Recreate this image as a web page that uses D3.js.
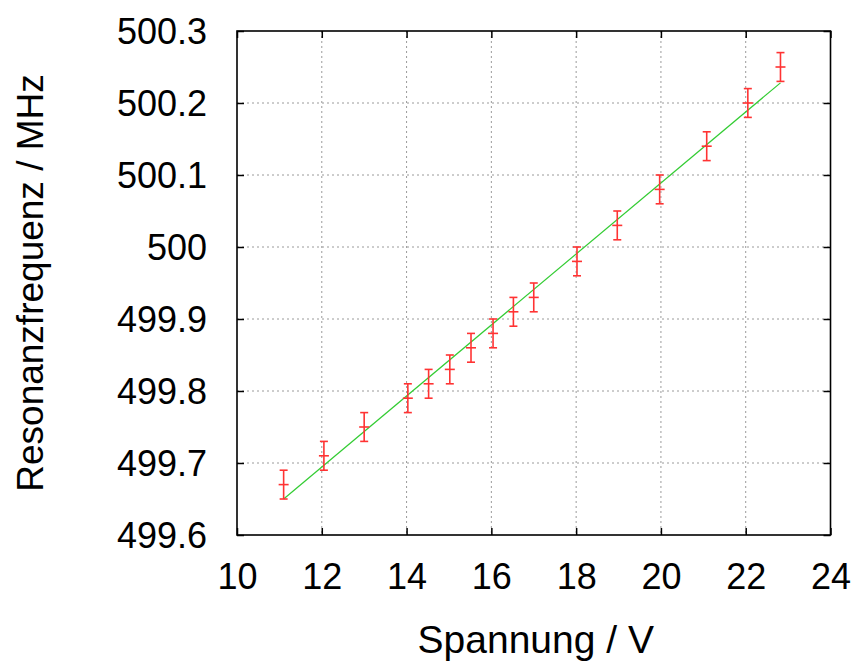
<!DOCTYPE html>
<html>
<head>
<meta charset="utf-8">
<script src="https://cdn.jsdelivr.net/npm/d3@7"></script>
<style>
  html, body { margin: 0; padding: 0; background: #fff; }
  svg { display: block; }
  text { font-family: "Liberation Sans", Arial, Helvetica, sans-serif; fill: #000; }
</style>
</head>
<body>
<svg id="chart" width="859" height="666"></svg>
<script>
// ---- data ----
const voltage   = [11.1, 12.05, 13.0, 14.03, 14.52, 15.02, 15.52, 16.04, 16.52, 17.0, 18.02, 18.97, 19.97, 21.08, 22.05, 22.82];
const frequency = [499.67, 499.71, 499.75, 499.79, 499.81, 499.83, 499.86, 499.88, 499.91, 499.93, 499.98, 500.03, 500.08, 500.14, 500.20, 500.25];
const freqError = [0.02, 0.02, 0.02, 0.02, 0.02, 0.02, 0.02, 0.02, 0.02, 0.02, 0.02, 0.02, 0.02, 0.02, 0.02, 0.02];
const fitX = [11.1, 22.82];
const fitY = [499.65, 500.228];
const xTicks = [10, 12, 14, 16, 18, 20, 22, 24];
const yTicks = [499.6, 499.7, 499.8, 499.9, 500, 500.1, 500.2, 500.3];
const xTitle = "Spannung / V";
const yTitle = "Resonanzfrequenz / MHz";

// ---- layout ----
const L = 237, R = 830.5, T = 31, B = 535;
const svg = d3.select("#chart");
const x = d3.scaleLinear().domain([10, 24]).range([L, R]);
const y = d3.scaleLinear().domain([499.6, 500.3]).range([B, T]);

// grid
const grid = svg.append("g").attr("stroke", "#9a9a9a").attr("stroke-width", 1).attr("stroke-dasharray", "2,3");
grid.selectAll("line.gx").data(xTicks.slice(1, -1)).join("line")
  .attr("x1", d => x(d)).attr("x2", d => x(d)).attr("y1", T).attr("y2", B);
grid.selectAll("line.gy").data(yTicks.slice(1, -1)).join("line")
  .attr("y1", d => y(d)).attr("y2", d => y(d)).attr("x1", L).attr("x2", R);

// axes (ticks inward, mirrored)
const tickLen = 7;
const fmt = d => String(+d.toFixed(1));
const axB = svg.append("g").attr("transform", `translate(0,${B})`)
  .call(d3.axisBottom(x).tickValues(xTicks).tickSizeInner(-tickLen).tickSizeOuter(0).tickPadding(30).tickFormat(d3.format("d")));
const axT = svg.append("g").attr("transform", `translate(0,${T})`)
  .call(d3.axisTop(x).tickValues(xTicks).tickSizeInner(-tickLen).tickSizeOuter(0).tickFormat(""));
const axL = svg.append("g").attr("transform", `translate(${L},0)`)
  .call(d3.axisLeft(y).tickValues(yTicks).tickSizeInner(-tickLen).tickSizeOuter(0).tickPadding(30).tickFormat(fmt));
const axR = svg.append("g").attr("transform", `translate(${R},0)`)
  .call(d3.axisRight(y).tickValues(yTicks).tickSizeInner(-tickLen).tickSizeOuter(0).tickFormat(""));
[axB, axT, axL, axR].forEach(a => {
  a.select(".domain").remove();
  a.selectAll(".tick line").attr("stroke", "#000").attr("stroke-width", 1.5);
  a.selectAll("text").attr("font-size", 36).attr("font-family", "'Liberation Sans', Arial, sans-serif").attr("fill", "#000");
});
axB.selectAll("text").attr("dy", null).attr("y", 0).attr("transform", "translate(0,54)");
axL.selectAll("text").attr("x", -30).attr("dy", "0.36em");

// frame
svg.append("rect").attr("x", L).attr("y", T).attr("width", R - L).attr("height", B - T)
  .attr("fill", "none").attr("stroke", "#000").attr("stroke-width", 1.6);

// fit line
svg.append("path").datum(fitX.map((d, i) => [d, fitY[i]]))
  .attr("d", d3.line().x(d => x(d[0])).y(d => y(d[1])))
  .attr("fill", "none").attr("stroke", "#33cc33").attr("stroke-width", 1.2);

// error bars
const pts = voltage.map((v, i) => ({ v, f: frequency[i], e: freqError[i] }));
const eb = svg.append("g").attr("stroke", "#ff3333").attr("stroke-width", 1.6).attr("fill", "none");
const g = eb.selectAll("g").data(pts).join("g");
g.append("line").attr("x1", d => x(d.v)).attr("x2", d => x(d.v)).attr("y1", d => y(d.f - d.e)).attr("y2", d => y(d.f + d.e));
g.append("line").attr("x1", d => x(d.v) - 4).attr("x2", d => x(d.v) + 4).attr("y1", d => y(d.f - d.e)).attr("y2", d => y(d.f - d.e));
g.append("line").attr("x1", d => x(d.v) - 4).attr("x2", d => x(d.v) + 4).attr("y1", d => y(d.f + d.e)).attr("y2", d => y(d.f + d.e));
g.append("line").attr("x1", d => x(d.v) - 5).attr("x2", d => x(d.v) + 5).attr("y1", d => y(d.f)).attr("y2", d => y(d.f));

// titles
svg.append("text").attr("x", (L + R) / 2 + 2).attr("y", 653).attr("text-anchor", "middle")
  .attr("font-size", 39).text(xTitle);
svg.append("text").attr("transform", `translate(43,${(T + B) / 2}) rotate(-90)`).attr("text-anchor", "middle")
  .attr("font-size", 37).text(yTitle);
</script>
</body>
</html>
